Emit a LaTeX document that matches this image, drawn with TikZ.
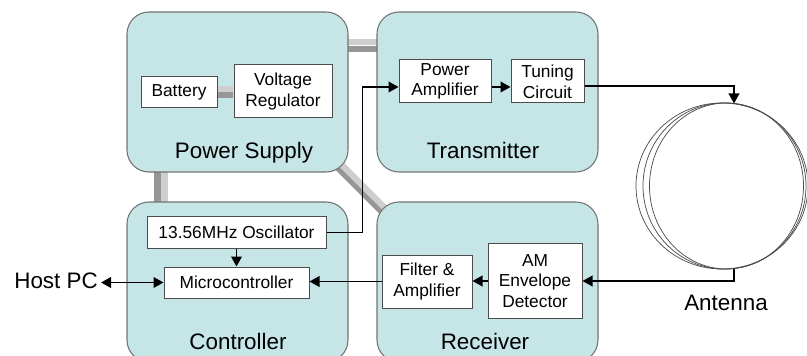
\documentclass[tikz,border=0pt]{standalone}
\usepackage{fontspec}
\setmainfont{Liberation Sans}
\usetikzlibrary{arrows.meta,calc}
\definecolor{boxfill}{RGB}{197,229,231}
\definecolor{pipeL}{RGB}{206,206,206}
\definecolor{pipeD}{RGB}{150,150,150}
\newcommand\innerfont{\fontsize{13}{15.5}\selectfont}
\newcommand\bigfont{\fontsize{16.8}{19}\selectfont}
\pgfdeclarelayer{pipes}
\pgfsetlayers{pipes,main}
\begin{document}
\begin{tikzpicture}[x=0.75pt,y=-0.75pt,
  >={Triangle[length=7.5pt,width=8pt]},
  group/.style={draw=black!55, line width=0.8pt, fill=boxfill, rounded corners=16.5pt,
    minimum width=165.75pt, minimum height=120pt, inner sep=0pt},
  blk/.style={draw=black!70, line width=0.75pt, fill=white, inner sep=0pt, align=center, font=\innerfont},
  glabel/.style={font=\bigfont, inner sep=0pt},
  conn/.style={line width=1.2pt, draw=black},
  pipelight/.style={line width=4.6pt, draw=pipeL},
  pipedark/.style={line width=4.6pt, draw=pipeD},
  coil/.style={draw=black!70, line width=0.55pt}]

\useasboundingbox (0,0) rectangle (807,356);

% group boxes
\node[group] (ps) at (237.5,92) {};
\node[group] (tx) at (487.5,92) {};
\node[group] (ctrl) at (237.5,282) {};
\node[group] (rx) at (487.5,282) {};

% group labels
\node[glabel, anchor=base] (pslbl) at (244,159) {Power Supply};
\node[glabel, anchor=base] (txlbl) at (483,159) {Transmitter};
\node[glabel, anchor=base] (ctrllbl) at (238,349) {Controller};
\node[glabel, anchor=base] (rxlbl) at (485,349) {Receiver};

% inner blocks
\node[blk, minimum width=57pt, minimum height=23.25pt] (bat) at (179,92.5) {Battery};
\node[blk, minimum width=73.5pt, minimum height=39.75pt] (vr) at (283,91.5) {Voltage\\Regulator};
\node[blk, minimum width=69pt, minimum height=32.25pt] (pa) at (445,81.5) {Power\\Amplifier};
\node[blk, minimum width=54.75pt, minimum height=32.25pt] (tc) at (547.5,81.5) {Tuning\\Circuit};
\node[blk, minimum width=134.25pt, minimum height=23.25pt] (osc) at (236.5,232.5) {13.56MHz Oscillator};
\node[blk, minimum width=108.75pt, minimum height=23.25pt] (mcu) at (236.5,282.5) {Microcontroller};
\node[blk, minimum width=67.5pt, minimum height=39.75pt] (flt) at (427,281.5) {Filter \&\\Amplifier};
\node[blk, minimum width=70.5pt, minimum height=55.5pt] (am) at (535,281) {AM\\Envelope\\Detector};

% battery - regulator pipe
\draw[pipelight, line width=4.1pt] ($(bat.east)+(0.6,-3.5)$) -- ($(vr.west |- bat.east)+(-0.6,-3.5)$);
\draw[pipedark, line width=4.1pt] ($(bat.east)+(0.6,2.5)$) -- ($(vr.west |- bat.east)+(-0.6,2.5)$);

% pipes between groups
\begin{pgfonlayer}{pipes}
  \draw[pipelight] ($(ps.east)+(-8,-50)$) -- ($(tx.west)+(8,-50)$);
  \draw[pipedark] ($(ps.east)+(-8,-43)$) -- ($(tx.west)+(8,-43)$);
  \draw[pipedark] ($(ps.south)+(-80,-8)$) -- ($(ctrl.north)+(-80,8)$);
  \draw[pipelight] ($(ps.south)+(-73,-8)$) -- ($(ctrl.north)+(-73,8)$);
  \draw[pipedark] ($(ps.south east)+(-14.87,-8.83)$) -- ($(rx.north west)+(7.33,12.37)$);
  \draw[pipelight] ($(ps.south east)+(-11.33,-12.37)$) -- ($(rx.north west)+(10.87,8.83)$);
\end{pgfonlayer}

% antenna
\coordinate (anttop) at (734,103.5);
\coordinate (antbot) at (734,268.5);
\foreach \cx/\rx in {722/86, 724.5/81.5, 726.5/77}{
  \draw[coil] (\cx,186) ellipse[x radius=\rx, y radius=83];
}
\node[glabel, anchor=base] (antlbl) at (726,310) {Antenna};

% host pc
\node[glabel, anchor=base east] (host) at (98,288) {Host PC};
\coordinate (hostend) at ($(host.east)+(3,0)$);

% connectors
\draw[conn, ->] (osc.east) -- ++(36,0) |- ($(pa.west)+(0,5.5)$);
\draw[conn, ->] ($(pa.east)+(0,5.5)$) -- ($(tc.west)+(0,5.5)$);
\draw[conn, ->] ($(tc.east)+(0,4.5)$) -| (anttop);
\draw[conn, ->] (antbot) |- (am.east);
\draw[conn, ->] (am.west) -- (am.west -| flt.east);
\draw[conn, ->] (flt.west) -- (flt.west -| mcu.east);
\draw[conn, ->] (osc.south) -- (mcu.north);
\draw[conn, <->] (hostend |- mcu.west) -- (mcu.west);
\end{tikzpicture}
\end{document}
